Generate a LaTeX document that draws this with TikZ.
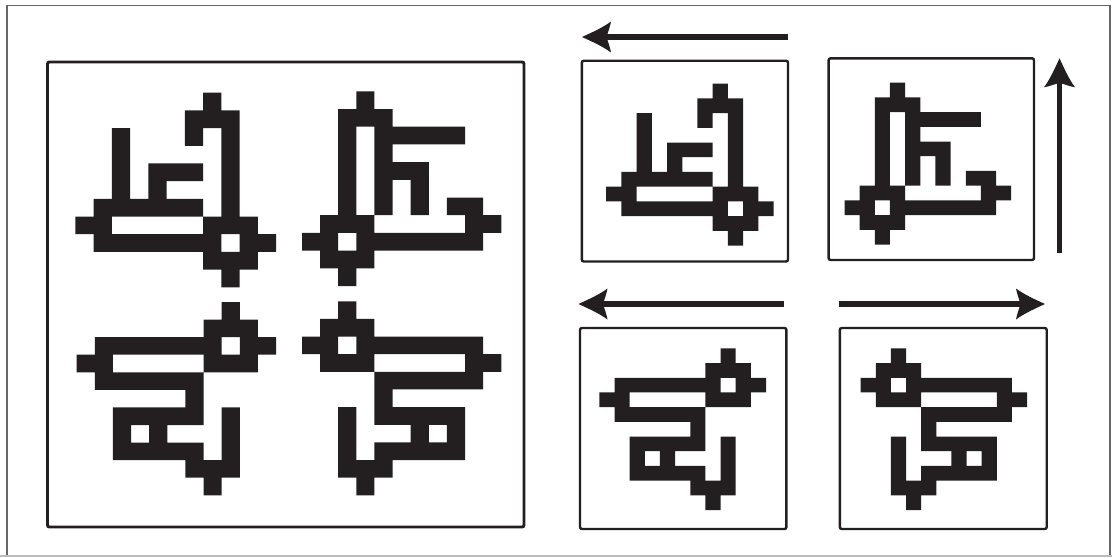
\documentclass[tikz,border=0pt]{standalone}
\definecolor{ink}{HTML}{231F20}
\definecolor{edgegray}{HTML}{666666}
\definecolor{edgelight}{HTML}{BBBBBB}
\tikzset{
  x=0.75pt,y=-0.75pt,
  frameline/.style={draw=ink,line width=2.2pt,rounded corners=1.5pt},
  thinframe/.style={draw=ink,line width=1.8pt,rounded corners=1.5pt},
  shaft/.style={draw=ink,line width=4.1pt},
}
% rows of black cells: row/first column/last column
\newcommand\GA{0/7/7,1/6/8,2/2/2,2/6/6,2/8/8,3/2/2,3/8/8,4/2/2,4/4/6,4/8/8,5/2/2,5/4/4,5/8/8,6/1/6,6/8/8,7/0/1,7/7/9,8/1/7,8/9/10,9/7/9,10/8/8}
\newcommand\GB{0/3/3,1/2/4,2/2/2,2/4/8,3/2/2,3/4/4,4/2/2,4/4/6,5/2/2,5/4/4,5/6/6,6/2/2,6/4/4,6/6/6,6/8/9,7/1/3,7/9/10,8/0/1,8/3/9,9/1/3,10/2/2}
\newcommand\GC{0/8/8,1/7/9,2/1/7,2/9/10,3/0/1,3/7/9,4/1/6,5/6/6,6/2/6,6/8/8,7/2/2,7/4/4,7/8/8,8/2/6,8/8/8,9/6/8,10/7/7}
\newcommand\GD{0/2/2,1/1/3,2/0/1,2/3/9,3/1/3,3/9/10,4/4/9,5/4/4,6/2/2,6/4/8,7/2/2,7/6/6,7/8/8,8/2/2,8/4/8,9/2/4,10/3/3}
% \glyph{left}{top}{right}{bottom}{cells}
\newcommand\glyph[5]{%
  \pgfmathsetmacro\cw{(#3-#1)/11}%
  \pgfmathsetmacro\ch{(#4-#2)/11}%
  \fill[ink] \foreach \r/\a/\b in #5 {
    ({#1+\a*\cw},{#2+\r*\ch}) rectangle ({#1+(\b+1)*\cw},{#2+(\r+1)*\ch})
  };%
}
% \bigarrow{name}{start x,y}{tip x,y}{angle}
\newcommand\bigarrow[4]{%
  \coordinate (#1s) at (#2);
  \coordinate (#1t) at (#3);
  \begin{scope}[shift={(#1t)},rotate=#4]
    \coordinate (#1n) at (-24,0);
    \fill[ink] (0,0) .. controls (-10,4.6) and (-21,9.5) .. (-29,15.5)
      .. controls (-28,10) and (-26,5) .. (-24.5,0)
      .. controls (-26,-5) and (-28,-10) .. (-29,-15.5)
      .. controls (-21,-9.5) and (-10,-4.6) .. (0,0) -- cycle;
  \end{scope}
  \draw[shaft] (#1s) -- (#1n);
}
\begin{document}
\begin{tikzpicture}
\useasboundingbox (0,0) rectangle (1112,557);
\fill[white] (0,0) rectangle (1112,557);
% outer edge
\draw[edgegray,line width=0.9pt] (7,557) -- (7,5.5) -- (1110,5.5) -- (1110,557);
\draw[edgelight,line width=0.8pt] (0,556) -- (1112,556);
% large panel
\draw[frameline] (47.5,62) rectangle (524,527);
\glyph{75.3}{92.7}{276}{287.3}{\GA}
\glyph{302}{91.3}{501.3}{286}{\GB}
\glyph{76.7}{302}{276}{495.3}{\GC}
\glyph{302}{301.3}{501.3}{495.3}{\GD}
% small panels
\draw[thinframe] (581.8,60.7) rectangle (788,261.5);
\draw[thinframe] (828.6,58.3) rectangle (1034,260);
\draw[thinframe] (580,328) rectangle (786.4,529);
\draw[thinframe] (839.8,328) rectangle (1046.7,529);
\glyph{606.2}{83.7}{773.5}{245.5}{\GA}
\glyph{844.5}{82.7}{1011.2}{244.5}{\GB}
\glyph{599.4}{348.4}{766}{510}{\GC}
\glyph{860.7}{348.4}{1027}{510}{\GD}
% arrows
\bigarrow{aa}{788,37}{582,37}{180}
\bigarrow{ab}{1059.5,253}{1059.5,58.3}{90}
\bigarrow{ac}{783.7,304}{578.5,304}{180}
\bigarrow{ad}{838.8,304}{1045,304}{0}
\end{tikzpicture}
\end{document}
